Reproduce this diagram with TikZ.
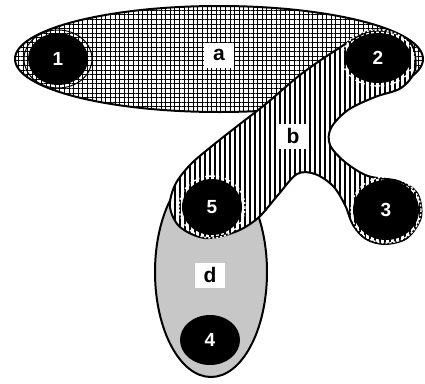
\documentclass[tikz,border=0pt]{standalone}
\usepackage{fontspec}
\setmainfont{Liberation Sans}
\usetikzlibrary{patterns.meta,shapes.geometric}
\begin{document}
\begin{tikzpicture}[x=1pt,y=-1pt,
  outl/.style={draw=black,line width=2pt},
  gridfill/.style={preaction={fill=white},pattern={Hatch[angle=0,distance=4.6pt,line width=1pt]}},
  vlines/.style={preaction={fill=white},pattern={Lines[angle=90,distance=5pt,line width=1.1pt]}},
  dot/.style={ellipse,fill=black,text=white,inner sep=0pt,minimum width=60pt,minimum height=52pt,font=\fontsize{19}{21}\selectfont\bfseries},
  tag/.style={fill=white,inner sep=0pt,minimum width=30pt,minimum height=25pt,font=\fontsize{21}{23}\selectfont\bfseries},
  halo/.style={draw=white,line width=1.4pt,dash pattern=on 2pt off 2pt}]
\useasboundingbox (0,0) rectangle (425,383);
% set a
\path[outl,gridfill] (219,59) ellipse [x radius=204, y radius=53];
% set d
\draw[outl,fill=black!22] (211,272) ellipse [x radius=56, y radius=105];
% set b
\path[outl,vlines] plot[smooth cycle,tension=0.55] coordinates {
 (367,32) (333,52) (300,75) (267,103) (240,124) (212,146) (190,165) (175,185)
 (170,207) (180,227) (205,238) (235,232) (258,218) (278,195) (297,174) (315,174)
 (333,186) (345,205) (353,225) (366,239) (385,244) (407,238) (421,217) (417,193)
 (398,181) (368,176) (345,162) (330,145) (331,128) (348,110) (375,97) (401,88)
 (415,70) (412,45) (395,33)};
% elements
\node[dot] (n1) at (58,59) {1};
\node[dot,minimum width=66pt,minimum height=50pt] (n2) at (378,58) {2};
\node[dot,minimum width=66pt,minimum height=60pt] (n3) at (386,210) {3};
\node[dot,minimum width=60pt,minimum height=50pt] (n4) at (210,340) {4};
\node[dot,minimum width=60pt,minimum height=56pt] (n5) at (212,207) {5};
% halos
\draw[black,line width=1pt] (n1.center) ellipse [x radius=34, y radius=29];
\draw[halo] (n2.center) ellipse [x radius=36, y radius=28];
\draw[halo] (n3.center) ellipse [x radius=35, y radius=33];
\draw[halo] (n5.center) ellipse [x radius=33, y radius=31];
% labels
\node[tag] (la) at (219,55) {a};
\node[tag] (lb) at (293,136) {b};
\node[tag] (ld) at (210,275) {d};
\end{tikzpicture}
\end{document}
